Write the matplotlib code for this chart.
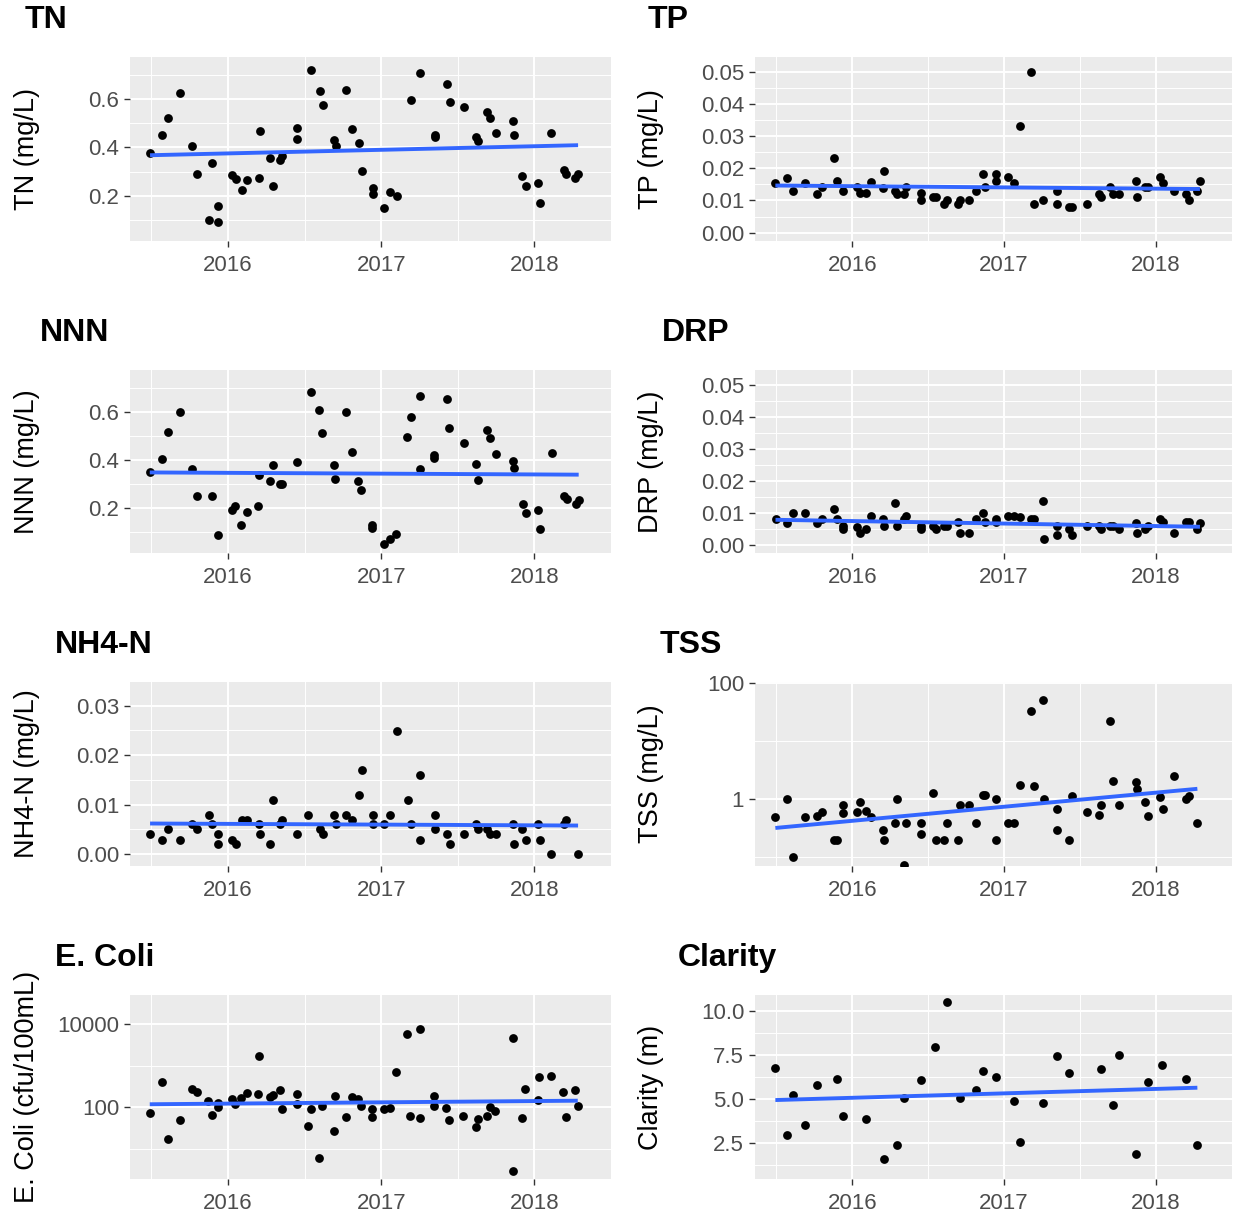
import numpy as np
import matplotlib
matplotlib.use("Agg")
import matplotlib.pyplot as plt
from matplotlib.ticker import NullFormatter

plt.rcParams['font.family'] = ['Liberation Sans', 'DejaVu Sans']

# ---------------- data (decimal year, value) ----------------
TN_x = [2015.491, 2015.569, 2015.610, 2015.688, 2015.766, 2015.798, 2015.874, 2015.897, 2015.935, 2015.935,
        2016.028, 2016.050, 2016.088, 2016.123, 2016.199, 2016.207, 2016.275, 2016.295, 2016.340, 2016.355,
        2016.451, 2016.451, 2016.542, 2016.599, 2016.617, 2016.693, 2016.703, 2016.771, 2016.811, 2016.854,
        2016.872, 2016.945, 2016.945, 2017.020, 2017.058, 2017.101, 2017.194, 2017.254, 2017.348, 2017.348,
        2017.428, 2017.446, 2017.539, 2017.620, 2017.635, 2017.690, 2017.710, 2017.748, 2017.861, 2017.864,
        2017.922, 2017.942, 2018.023, 2018.035, 2018.111, 2018.191, 2018.209, 2018.267, 2018.285]
TN_y = [0.375, 0.450, 0.521, 0.626, 0.404, 0.290, 0.101, 0.337, 0.160, 0.094,
        0.286, 0.269, 0.225, 0.266, 0.273, 0.468, 0.357, 0.241, 0.348, 0.364,
        0.480, 0.433, 0.720, 0.632, 0.575, 0.432, 0.404, 0.636, 0.477, 0.419,
        0.303, 0.234, 0.207, 0.152, 0.218, 0.201, 0.596, 0.709, 0.451, 0.441,
        0.662, 0.589, 0.568, 0.444, 0.428, 0.548, 0.521, 0.459, 0.510, 0.450,
        0.284, 0.239, 0.255, 0.170, 0.459, 0.306, 0.292, 0.273, 0.292]

TP_x = [2015.494, 2015.572, 2015.610, 2015.691, 2015.771, 2015.799, 2015.877, 2015.897, 2015.937, 2016.030,
        2016.053, 2016.091, 2016.126, 2016.201, 2016.209, 2016.279, 2016.297, 2016.342, 2016.357, 2016.453,
        2016.455, 2016.533, 2016.554, 2016.606, 2016.626, 2016.699, 2016.707, 2016.772, 2016.815, 2016.860,
        2016.875, 2016.945, 2016.945, 2017.023, 2017.065, 2017.103, 2017.179, 2017.199, 2017.257, 2017.350,
        2017.350, 2017.428, 2017.448, 2017.544, 2017.622, 2017.640, 2017.698, 2017.715, 2017.756, 2017.867,
        2017.872, 2017.927, 2017.947, 2018.028, 2018.045, 2018.118, 2018.196, 2018.214, 2018.272, 2018.289]
TP_y = [0.0153, 0.0171, 0.0130, 0.0155, 0.0120, 0.0143, 0.0231, 0.0161, 0.0130, 0.0143,
        0.0122, 0.0122, 0.0156, 0.0138, 0.0191, 0.0130, 0.0120, 0.0120, 0.0143, 0.0124,
        0.0100, 0.0112, 0.0112, 0.0090, 0.0100, 0.0090, 0.0102, 0.0100, 0.0130, 0.0181,
        0.0141, 0.0183, 0.0161, 0.0173, 0.0155, 0.0330, 0.0500, 0.0090, 0.0102, 0.0130,
        0.0090, 0.0079, 0.0079, 0.0090, 0.0120, 0.0110, 0.0143, 0.0120, 0.0120, 0.0161,
        0.0112, 0.0141, 0.0141, 0.0173, 0.0153, 0.0130, 0.0120, 0.0100, 0.0130, 0.0161]

NNN_x = [2015.489, 2015.567, 2015.607, 2015.685, 2015.763, 2015.796, 2015.894, 2015.932, 2016.025, 2016.048,
         2016.086, 2016.121, 2016.196, 2016.204, 2016.272, 2016.292, 2016.338, 2016.353, 2016.448, 2016.539,
         2016.597, 2016.615, 2016.690, 2016.700, 2016.768, 2016.809, 2016.851, 2016.869, 2016.942, 2016.942,
         2017.018, 2017.055, 2017.098, 2017.171, 2017.192, 2017.252, 2017.252, 2017.346, 2017.346, 2017.427,
         2017.444, 2017.538, 2017.619, 2017.634, 2017.690, 2017.710, 2017.748, 2017.862, 2017.865, 2017.923,
         2017.944, 2018.025, 2018.038, 2018.114, 2018.195, 2018.213, 2018.271, 2018.289]
NNN_y = [0.350, 0.403, 0.516, 0.600, 0.361, 0.250, 0.252, 0.087, 0.194, 0.207,
         0.132, 0.186, 0.208, 0.337, 0.312, 0.378, 0.301, 0.301, 0.392, 0.683,
         0.608, 0.513, 0.378, 0.320, 0.599, 0.432, 0.312, 0.276, 0.132, 0.116,
         0.052, 0.073, 0.091, 0.495, 0.578, 0.666, 0.361, 0.419, 0.406, 0.652,
         0.534, 0.470, 0.383, 0.317, 0.523, 0.490, 0.425, 0.397, 0.367, 0.218,
         0.181, 0.194, 0.112, 0.429, 0.252, 0.240, 0.219, 0.234]

DRP_x = [2015.495, 2015.572, 2015.610, 2015.691, 2015.771, 2015.799, 2015.877, 2015.897, 2015.937, 2015.937,
         2016.030, 2016.053, 2016.091, 2016.126, 2016.201, 2016.209, 2016.279, 2016.297, 2016.342, 2016.357,
         2016.453, 2016.455, 2016.533, 2016.554, 2016.606, 2016.626, 2016.699, 2016.707, 2016.772, 2016.815,
         2016.860, 2016.875, 2016.945, 2016.945, 2017.023, 2017.065, 2017.103, 2017.179, 2017.199, 2017.257,
         2017.262, 2017.350, 2017.350, 2017.428, 2017.448, 2017.544, 2017.622, 2017.640, 2017.698, 2017.715,
         2017.756, 2017.867, 2017.872, 2017.927, 2017.947, 2018.028, 2018.045, 2018.118, 2018.196, 2018.214,
         2018.272, 2018.289]
DRP_y = [0.0079, 0.0069, 0.0100, 0.0100, 0.0069, 0.0081, 0.0110, 0.0081, 0.0058, 0.0048,
         0.0054, 0.0038, 0.0048, 0.0090, 0.0081, 0.0058, 0.0131, 0.0058, 0.0081, 0.0090,
         0.0050, 0.0058, 0.0058, 0.0050, 0.0058, 0.0058, 0.0071, 0.0038, 0.0038, 0.0081,
         0.0100, 0.0071, 0.0081, 0.0071, 0.0090, 0.0090, 0.0085, 0.0079, 0.0079, 0.0138,
         0.0019, 0.0058, 0.0029, 0.0050, 0.0029, 0.0058, 0.0058, 0.0048, 0.0058, 0.0058,
         0.0048, 0.0069, 0.0038, 0.0048, 0.0058, 0.0081, 0.0071, 0.0038, 0.0071, 0.0071,
         0.0048, 0.0069]

NH4_x = [2015.491, 2015.569, 2015.610, 2015.688, 2015.766, 2015.798, 2015.874, 2015.897, 2015.935, 2015.935,
         2016.028, 2016.050, 2016.088, 2016.123, 2016.199, 2016.207, 2016.275, 2016.295, 2016.340, 2016.355,
         2016.451, 2016.524, 2016.599, 2016.617, 2016.693, 2016.703, 2016.771, 2016.811, 2016.854, 2016.872,
         2016.945, 2016.945, 2017.020, 2017.058, 2017.101, 2017.174, 2017.194, 2017.254, 2017.254, 2017.348,
         2017.348, 2017.428, 2017.446, 2017.539, 2017.620, 2017.635, 2017.690, 2017.710, 2017.748, 2017.861,
         2017.864, 2017.922, 2017.942, 2018.023, 2018.035, 2018.111, 2018.191, 2018.209, 2018.285]
NH4_y = [0.0040, 0.0029, 0.0050, 0.0029, 0.0060, 0.0050, 0.0080, 0.0060, 0.0040, 0.0020,
         0.0029, 0.0020, 0.0070, 0.0070, 0.0060, 0.0040, 0.0020, 0.0110, 0.0060, 0.0070,
         0.0040, 0.0080, 0.0050, 0.0040, 0.0080, 0.0060, 0.0080, 0.0070, 0.0120, 0.0170,
         0.0080, 0.0060, 0.0060, 0.0080, 0.0248, 0.0110, 0.0060, 0.0029, 0.0160, 0.0080,
         0.0050, 0.0040, 0.0020, 0.0040, 0.0060, 0.0050, 0.0050, 0.0040, 0.0040, 0.0060,
         0.0020, 0.0050, 0.0029, 0.0060, 0.0029, 0.0000, 0.0060, 0.0070, 0.0000]

TSS_x = [2015.494, 2015.572, 2015.610, 2015.691, 2015.771, 2015.799, 2015.877, 2015.897, 2015.937, 2015.937,
         2016.030, 2016.053, 2016.091, 2016.126, 2016.201, 2016.209, 2016.279, 2016.297, 2016.342, 2016.357,
         2016.453, 2016.455, 2016.533, 2016.554, 2016.606, 2016.626, 2016.699, 2016.707, 2016.772, 2016.815,
         2016.860, 2016.875, 2016.945, 2016.945, 2017.023, 2017.065, 2017.103, 2017.179, 2017.199, 2017.257,
         2017.262, 2017.350, 2017.350, 2017.428, 2017.448, 2017.544, 2017.622, 2017.640, 2017.698, 2017.715,
         2017.756, 2017.867, 2017.872, 2017.927, 2017.947, 2018.028, 2018.045, 2018.118, 2018.196, 2018.214,
         2018.272]
TSS_y = [0.486, 1.00, 0.098, 0.486, 0.506, 0.592, 0.196, 0.196, 0.790, 0.580,
         0.590, 0.880, 0.610, 0.490, 0.295, 0.196, 0.384, 1.00, 0.073, 0.384,
         0.384, 0.249, 1.28, 0.196, 0.196, 0.384, 0.196, 0.790, 0.790, 0.384,
         1.19, 1.19, 1.00, 0.196, 0.384, 0.384, 1.76, 33.7, 1.69, 51.9,
         1.01, 0.675, 0.295, 0.196, 1.14, 0.592, 0.519, 0.790, 22.7, 2.08,
         0.790, 2.00, 1.50, 0.877, 0.499, 1.07, 0.675, 2.54, 1.00, 1.14,
         0.384]

ECOLI_x = [2015.489, 2015.567, 2015.607, 2015.685, 2015.763, 2015.796, 2015.872, 2015.894, 2015.932, 2015.932,
           2016.025, 2016.048, 2016.086, 2016.121, 2016.196, 2016.204, 2016.272, 2016.292, 2016.338, 2016.353,
           2016.448, 2016.448, 2016.521, 2016.539, 2016.597, 2016.615, 2016.690, 2016.700, 2016.768, 2016.809,
           2016.851, 2016.869, 2016.942, 2016.942, 2017.018, 2017.055, 2017.098, 2017.171, 2017.191, 2017.252,
           2017.252, 2017.345, 2017.345, 2017.426, 2017.443, 2017.537, 2017.617, 2017.632, 2017.688, 2017.708,
           2017.746, 2017.860, 2017.862, 2017.920, 2017.940, 2018.021, 2018.033, 2018.109, 2018.189, 2018.207,
           2018.265, 2018.283]
ECOLI_y = [73, 399, 18, 49, 272, 231, 144, 67, 100, 126,
           161, 118, 169, 223, 211, 1680, 176, 200, 267, 90,
           211, 122, 36, 90, 6.2, 106, 27, 193, 58, 176,
           161, 106, 93, 58, 93, 96, 714, 5800, 63, 7740,
           56, 193, 111, 96, 51, 62, 34, 53, 63, 100,
           82, 4570, 3.1, 56, 283, 155, 524, 564, 231, 60,
           267, 108]

CLAR_x = [2015.494, 2015.572, 2015.610, 2015.691, 2015.771, 2015.897, 2015.937, 2016.091, 2016.209, 2016.297,
          2016.342, 2016.455, 2016.548, 2016.626, 2016.707, 2016.815, 2016.860, 2016.945, 2017.062, 2017.103,
          2017.257, 2017.350, 2017.428, 2017.640, 2017.715, 2017.756, 2017.867, 2017.947, 2018.040, 2018.196,
          2018.272]
CLAR_y = [6.79, 2.98, 5.24, 3.51, 5.81, 6.13, 4.06, 3.89, 1.61, 2.42,
          5.08, 6.11, 7.94, 10.50, 5.06, 5.53, 6.62, 6.28, 4.89, 2.55,
          4.77, 7.43, 6.49, 6.71, 4.66, 7.52, 1.91, 5.98, 6.94, 6.13,
          2.42]

YEARS = [2016, 2017, 2018]
YEAR_LABELS = ["2016", "2017", "2018"]

# ---------------- layout ----------------
W, H = 1238, 1213
fig = plt.figure(figsize=(W / 100, H / 100), dpi=100)


def rect(x0, y0, x1, y1):
    return [x0 / W, 1 - y1 / H, (x1 - x0) / W, (y1 - y0) / H]


panels = [
    dict(title="TN", x=TN_x, y=TN_y, ylabel="TN (mg/L)", box=(130, 57, 611, 241), tpos=(25, 20), lx=27,
         ylim=(0.014, 0.773), major=[0.2, 0.4, 0.6], labels=["0.2", "0.4", "0.6"],
         minor=[0.1, 0.3, 0.5, 0.7], log=False),
    dict(title="TP", x=TP_x, y=TP_y, ylabel="TP (mg/L)", box=(755, 57, 1232, 241), tpos=(648, 20), lx=651,
         ylim=(-0.0026, 0.0546), major=[0, 0.01, 0.02, 0.03, 0.04, 0.05],
         labels=["0.00", "0.01", "0.02", "0.03", "0.04", "0.05"],
         minor=[0.005, 0.015, 0.025, 0.035, 0.045], log=False),
    dict(title="NNN", x=NNN_x, y=NNN_y, ylabel="NNN (mg/L)", box=(130, 370, 611, 553), tpos=(40, 333), lx=27,
         ylim=(0.014, 0.773), major=[0.2, 0.4, 0.6], labels=["0.2", "0.4", "0.6"],
         minor=[0.1, 0.3, 0.5, 0.7], log=False),
    dict(title="DRP", x=DRP_x, y=DRP_y, ylabel="DRP (mg/L)", box=(755, 370, 1232, 553), tpos=(662, 333), lx=651,
         ylim=(-0.0026, 0.0546), major=[0, 0.01, 0.02, 0.03, 0.04, 0.05],
         labels=["0.00", "0.01", "0.02", "0.03", "0.04", "0.05"],
         minor=[0.005, 0.015, 0.025, 0.035, 0.045], log=False),
    dict(title="NH4-N", x=NH4_x, y=NH4_y, ylabel="NH4-N (mg/L)", box=(130, 682, 611, 866), tpos=(55, 645), lx=27,
         ylim=(-0.0024, 0.0348), major=[0, 0.01, 0.02, 0.03], labels=["0.00", "0.01", "0.02", "0.03"],
         minor=[0.005, 0.015, 0.025], log=False),
    dict(title="TSS", x=TSS_x, y=TSS_y, ylabel="TSS (mg/L)", box=(755, 682, 1232, 866), tpos=(660, 645), lx=651,
         ylim=(10 ** -1.16, 10 ** 2.023), major=[1, 100], labels=["1", "100"],
         minor=[0.1, 10], log=True),
    dict(title="E. Coli", x=ECOLI_x, y=ECOLI_y, ylabel="E. Coli (cfu/100mL)", box=(130, 995, 611, 1179),
         tpos=(55, 958), lx=27, ylim=(10 ** 0.29, 10 ** 4.69), major=[100, 10000], labels=["100", "10000"],
         minor=[10, 1000], log=True),
    dict(title="Clarity", x=CLAR_x, y=CLAR_y, ylabel="Clarity (m)", box=(755, 995, 1232, 1179),
         tpos=(678, 958), lx=651, ylim=(0.47, 10.92), major=[2.5, 5.0, 7.5, 10.0],
         labels=["2.5", "5.0", "7.5", "10.0"], minor=[1.25, 3.75, 6.25, 8.75], log=False),
]

XLIM = (2015.36, 2018.427)
XMINOR = [2015.5, 2016.5, 2017.5, 2018.5]

for p in panels:
    ax = fig.add_axes(rect(*p["box"]))
    ax.set_facecolor("#EBEBEB")
    for s in ax.spines.values():
        s.set_visible(False)
    if p["log"]:
        ax.set_yscale("log")
    ax.set_xlim(*XLIM)
    ax.set_ylim(*p["ylim"])
    ax.set_xticks(YEARS)
    ax.set_xticklabels(YEAR_LABELS)
    ax.set_xticks(XMINOR, minor=True)
    ax.set_yticks(p["major"])
    ax.set_yticklabels(p["labels"])
    ax.set_yticks(p["minor"], minor=True)
    ax.yaxis.set_minor_formatter(NullFormatter())
    ax.xaxis.set_minor_formatter(NullFormatter())
    ax.tick_params(which="major", length=4.3, width=1.0, color="#333333", labelsize=16,
                   labelcolor="#4D4D4D", pad=3.5)
    ax.tick_params(axis="x", which="major", pad=5.5)
    ax.tick_params(which="minor", length=0)
    ax.grid(which="major", color="white", linewidth=1.4)
    ax.grid(which="minor", color="white", linewidth=0.7)
    ax.set_axisbelow(True)

    x = np.asarray(p["x"], dtype=float)
    y = np.asarray(p["y"], dtype=float)
    ax.scatter(x, y, s=40, color="black", linewidths=0, zorder=3)

    # linear trend (in log space for log-scaled panels)
    yy = np.log10(y) if p["log"] else y
    slope, icpt = np.polyfit(x, yy, 1)
    xs = np.linspace(x.min(), x.max(), 50)
    fit = slope * xs + icpt
    if p["log"]:
        fit = 10 ** fit
    ax.plot(xs, fit, color="#3366FF", linewidth=2.8, zorder=4, solid_capstyle="butt")

    # y-axis title, placed in figure pixels
    yc = (p["box"][1] + p["box"][3]) / 2
    fig.text(p["lx"] / W, 1 - yc / H, p["ylabel"], rotation=90, fontsize=19.5, color="black",
             ha="center", va="center")

    tx, ty = p["tpos"]
    fig.text(tx / W, 1 - ty / H, p["title"], fontsize=23, fontweight="bold",
             ha="left", va="center", color="black")

fig.savefig("out.png", dpi=100, facecolor="white")
